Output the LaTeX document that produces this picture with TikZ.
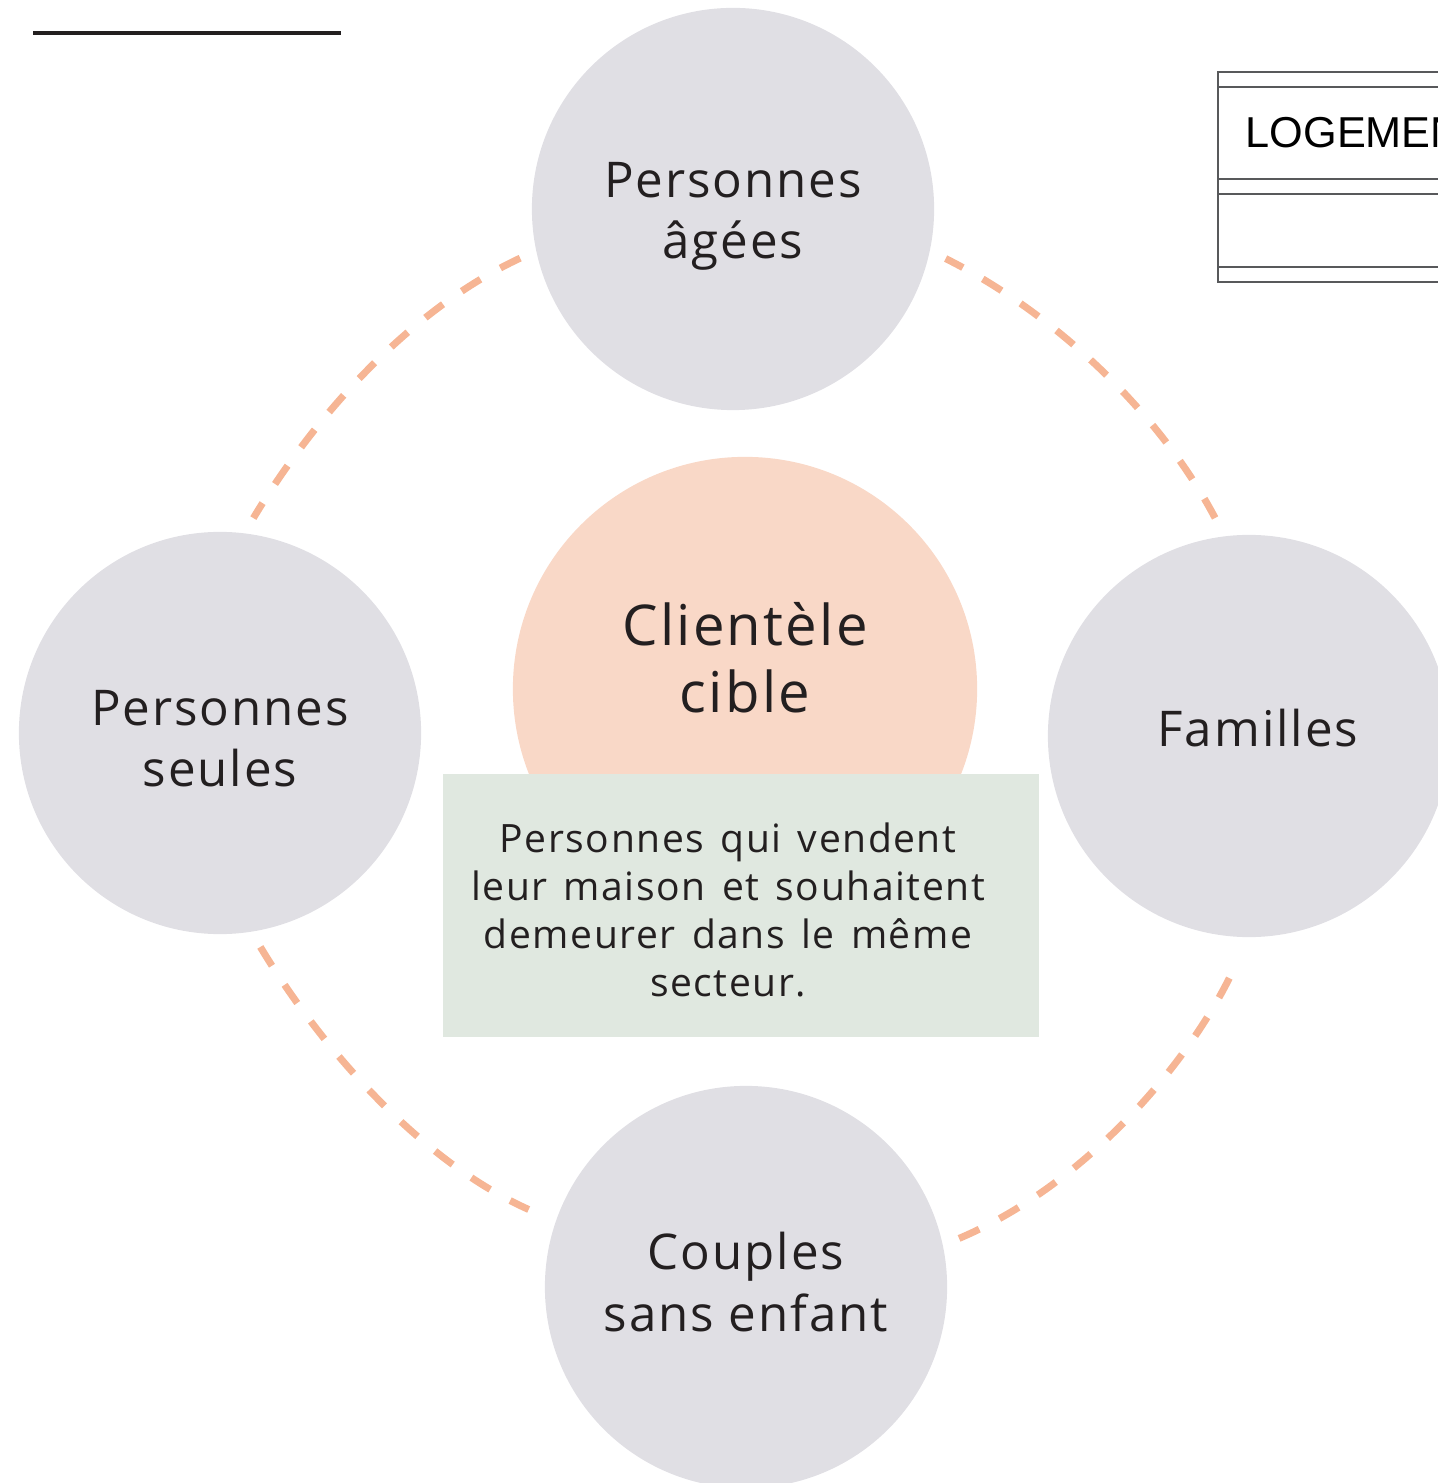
\documentclass[tikz,border=0pt]{standalone}
\usepackage{fontspec}
\setmainfont[LetterSpace=4]{Open Sans}
\newfontfamily\boitefont[LetterSpace=4,WordSpace=1.4]{Open Sans}
\newfontfamily\tetefont{Liberation Sans}
\usepackage{tikz}
\usetikzlibrary{positioning}

\definecolor{ink}{HTML}{231F20}
\definecolor{groupgray}{HTML}{E0DFE4}
\definecolor{ciblepeach}{HTML}{F9D8C7}
\definecolor{boitegreen}{HTML}{E0E8E0}
\definecolor{liendash}{HTML}{F6B594}
\definecolor{cadregray}{HTML}{58595B}

\begin{document}
\begin{tikzpicture}
        [x=0.01cm,y=-0.01cm,
          groupe/.style={circle,fill=groupgray,minimum size=4.02cm,inner sep=0pt},
          texte/.style={align=center,text=ink,font=\fontsize{14}{17.4}\selectfont},
          cible/.style={circle,fill=ciblepeach,minimum size=4.64cm,inner sep=0pt},
          cibletexte/.style={align=center,text=ink,font=\fontsize{16}{19}\selectfont},
          fond/.style={fill=boitegreen,minimum width=5.96cm,minimum height=2.63cm},
          boite/.style={align=center,text=ink,font=\boitefont\fontsize{11.1}{13.7}\selectfont},
          lien/.style={draw=liendash,line width=2pt,dash pattern=on 6.3pt off 6.5pt,
            looseness=0.87,shorten >=0.17cm,shorten <=0.17cm},
          cadre/.style={draw=cadregray,line width=0.5pt}]
        \useasboundingbox (0,0) rectangle (1437,1483);

        \draw[ink,line width=1.2pt] (33,33) -- (341,33);

        \node[groupe] (agees) at (733,209) {};
        \node[groupe] (seules) at (220,733) {};
        \node[groupe] (familles) at (1249,736) {};
        \node[groupe] (couples) at (746,1287) {};
        \node[texte] (ageestxt) at ([yshift=-0.07cm]agees.center) {Personnes\\âgées};
        \node[texte] (seulestxt) at ([yshift=-0.06cm]seules.center) {Personnes\\seules};
        \node[texte] (famillestxt) at ([xshift=0.09cm,yshift=0.08cm]familles.center) {Familles};
        \node[texte] (couplestxt) at ([yshift=0.05cm]couples.center) {Couples\\sans enfant};

        \node[cible] (cible) at (745,689) {};
        \node[cibletexte] (cibletxt) at (745,658) {Clientèle\\cible};
        \node[fond] (fondboite) at (741,905.5) {};
        \node[boite] (desc) at (728,910) {Personnes qui vendent\\leur maison et souhaitent\\demeurer dans le même\\secteur.};

        \draw[lien] (agees.192.2) to[out=205,in=59] (seules.83.5);
        \draw[lien,shorten >=0.29cm] (seules.279.5) to[out=301,in=156] (couples.161.3);
        \draw[lien,looseness=0.88,shorten >=0.40cm] (couples.12) to[out=23,in=244] (familles.270);
        \draw[lien,shorten <=0.20cm] (familles.97) to[out=117.8,in=333.4] (agees.348.3);

        \draw[cadre] (1460,72) -- (1218,72) -- (1218,282) -- (1460,282)
        (1218,87) -- (1460,87)
        (1218,179) -- (1460,179)
        (1218,194) -- (1460,194)
        (1218,267) -- (1460,267);
        \node[anchor=west,inner sep=0pt,font=\tetefont\fontsize{12.3}{15}\selectfont] (logement) at (1245,133) {LOGEMENT};
\end{tikzpicture}
\end{document}
